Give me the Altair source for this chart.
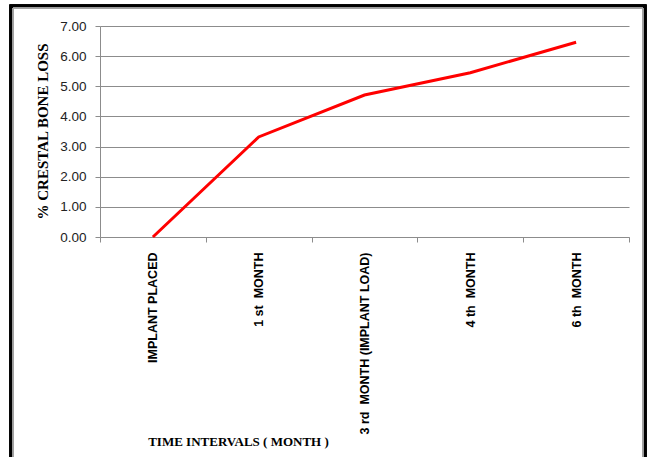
import altair as alt
import pandas as pd

# Crestal bone loss over follow-up intervals
intervals = [
    "IMPLANT PLACED",
    "1 st\u00a0\u00a0MONTH",
    "3 rd\u00a0\u00a0MONTH (IMPLANT LOAD)",
    "4 th\u00a0\u00a0MONTH",
    "6 th\u00a0\u00a0MONTH",
]
bone_loss = [0.00, 3.32, 4.71, 5.45, 6.46]
y_ticks = [0, 1, 2, 3, 4, 5, 6, 7]

df = pd.DataFrame({"interval": intervals, "loss": bone_loss})

GRID = "#8c8c8c"

line = alt.Chart(df).mark_line(color="#ff0000", strokeWidth=3).encode(
    x=alt.X(
        "interval:N",
        sort=intervals,
        bandPosition=0.5,
        scale=alt.Scale(type="band", paddingInner=0, paddingOuter=0),
        axis=alt.Axis(
            title="TIME INTERVALS ( MONTH )",
            titleFont="Liberation Serif",
            titleFontSize=13,
            titleFontWeight="bold",
            titleColor="#000000",
            titleX=138,
            titleY=204,
            titleAlign="center",
            titleBaseline="middle",
            titleAngle=0,
            labelAngle=-90,
            labelAlign="right",
            labelBaseline="middle",
            labelFont="Liberation Sans",
            labelFontSize=12.5,
            labelFontWeight="bold",
            labelColor="#000000",
            labelPadding=10,
            labelLimit=0,
            tickBand="extent",
            tickSize=5,
            tickColor=GRID,
            domainColor=GRID,
            grid=False,
        ),
    ),
    y=alt.Y(
        "loss:Q",
        scale=alt.Scale(domain=[0, 7], nice=False),
        axis=alt.Axis(
            values=y_ticks,
            format=".2f",
            title="% CRESTAL BONE LOSS",
            titleFont="Liberation Serif",
            titleFontSize=15,
            titleFontWeight="bold",
            titleColor="#000000",
            titleAngle=-90,
            titleX=-58,
            titleY=105,
            titleAlign="center",
            titleBaseline="middle",
            labelFont="Liberation Sans",
            labelFontSize=13.5,
            labelColor="#222222",
            labelPadding=9,
            tickSize=5,
            tickColor=GRID,
            domainColor=GRID,
            grid=True,
            gridColor=GRID,
            gridWidth=1,
        ),
    ),
)

# Outer frame around the whole figure
frame = alt.Chart(df).mark_rect(
    fill="transparent", stroke="#000000", strokeWidth=3
).encode(
    x=alt.value(-89), x2=alt.value(545), y=alt.value(-20), y2=alt.value(460)
)
frame_inner = alt.Chart(df).mark_rect(
    fill="transparent", stroke="#a0a0a0", strokeWidth=1
).encode(
    x=alt.value(-87), x2=alt.value(543), y=alt.value(-18), y2=alt.value(460)
)

chart = (
    alt.layer(line, frame, frame_inner)
    .properties(
        width=529,
        height=211,
        padding={"left": 100, "top": 26, "right": 21, "bottom": 220},
        autosize=alt.AutoSizeParams(type="none"),
        background="#ffffff",
    )
    .configure_view(stroke=None)
)

chart.save("out.html", embed_options={"renderer": "svg", "actions": False})
